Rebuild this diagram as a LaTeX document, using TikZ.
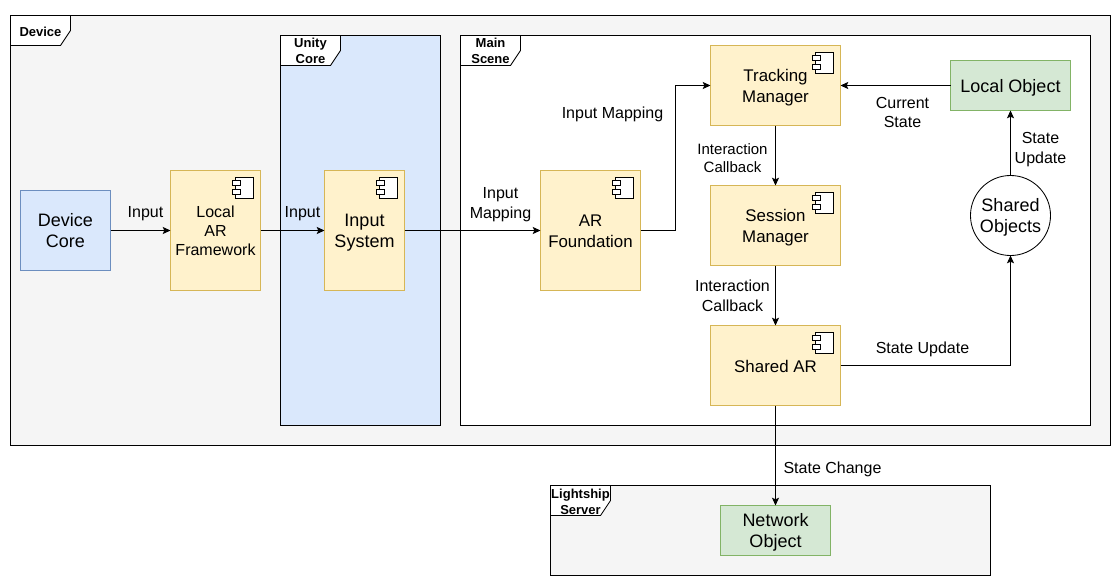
\documentclass[tikz,border=0pt]{standalone}
\usepackage{fontspec}
\setmainfont{Liberation Sans}
\usepackage{xcolor}
\usetikzlibrary{arrows.meta}
\usetikzlibrary{calc}

\definecolor{bluefill}{HTML}{DAE8FC}
\definecolor{blueline}{HTML}{6C8EBF}
\definecolor{yellowfill}{HTML}{FFF2CC}
\definecolor{yellowline}{HTML}{D6B656}
\definecolor{greenfill}{HTML}{D5E8D4}
\definecolor{greenline}{HTML}{82B366}
\definecolor{greyfill}{HTML}{F5F5F5}

\begin{document}
\begin{tikzpicture}[
  x=0.025cm, y=-0.025cm,
  line width=0.6pt,
  sized/.style 2 args={minimum width=#1*0.025cm, minimum height=#2*0.025cm},
  drop/.style={execute at begin node=\rule{0pt}{#1}},
  base/.style={
    rectangle,
    inner sep=0pt,
    outer sep=0pt,
    align=center
  },
  frame/.style={base, draw=black, fill=#1},
  tabshape/.style={draw=black, fill=white},
  tabtext/.style={font=\fontsize{9.25}{11.4}\selectfont\bfseries, align=center, inner sep=0pt},
  comp/.style={base, draw=yellowline, fill=yellowfill, font=\fontsize{12}{14.9}\selectfont},
  compsmall/.style={comp, font=\fontsize{11.38}{13.5}\selectfont},
  compbig/.style={comp, font=\fontsize{12.8}{15}\selectfont},
  bluebox/.style={base, draw=blueline, fill=bluefill, font=\fontsize{12.8}{15}\selectfont},
  greenbox/.style={base, draw=greenline, fill=greenfill, font=\fontsize{12.8}{15}\selectfont},
  lbl/.style={font=\fontsize{11.38}{14.2}\selectfont, align=center, inner sep=0pt},
  lblsmall/.style={font=\fontsize{10.67}{12.8}\selectfont, align=center, inner sep=0pt},
  arr/.style={-{Stealth[length=5.5pt, width=5pt, inset=1.1pt]}, black}
]

\useasboundingbox (-0.5, -0.5) rectangle (1119.5, 584.5);

% Frames
\node[frame=greyfill, sized={1100}{430}] (device) at (560, 230) {};
\node[frame=bluefill, sized={160}{390}] (unity) at (360, 230) {};
\node[frame=white, sized={630}{390}] (mainscene) at (775, 230) {};
\node[frame=greyfill, sized={440}{90}] (lightship) at (770, 530) {};

% Frame tabs
\foreach \frm in {device, unity, mainscene, lightship}
  \draw[tabshape] (\frm.north west) -- ++(60, 0) -- ++(0, 15) -- ++(-10, 15) -- ++(-50, 0) -- cycle;

\node[tabtext] (devicetab) at (40, 31) {Device};
\node[tabtext] (unitytab) at (310, 50.5) {Unity\\Core};
\node[tabtext] (maintab) at (490, 50.5) {Main\\Scene};
\node[tabtext] (lightshiptab) at (580, 501) {Lightship\\Server};

% Boxes
\node[bluebox, sized={90}{80}] (devcore) at (65, 230) {Device\\Core};
\node[compsmall, drop=36pt, sized={90}{120}] (localar) at (215, 230) {Local\\AR\\Framework};
\node[compbig, drop=27pt, sized={80}{120}] (inputsys) at (364, 230) {Input\\System};
\node[comp, drop=24.9pt, sized={100}{120}] (arfound) at (590, 230) {AR\\Foundation};
\node[comp, drop=26.5pt, sized={130}{80}] (tracking) at (775, 85) {Tracking\\Manager};
\node[comp, drop=26.5pt, sized={130}{80}] (session) at (775, 225) {Session\\Manager};
\node[comp, drop=9.4pt, sized={130}{80}] (sharedar) at (775, 365) {Shared AR};
\node[greenbox, drop=12.1pt, sized={120}{50}] (localobj) at (1010, 85) {Local Object};
\node[greenbox, drop=27.2pt, sized={110}{50}] (netobj) at (775, 530) {Network\\Object};
\node[base, circle, draw=black, fill=white, font=\fontsize{12.8}{15}\selectfont, minimum size=2cm,
  drop=27.2pt] (sharedobj) at (1010, 215) {Shared\\Objects};

% Component icons
\foreach \comp in {localar, inputsys, arfound, tracking, session, sharedar} {
  \draw[fill=white] ($(\comp.north east)+(-25.3, 7.3)$) rectangle ($(\comp.north east)+(-7.3, 27.7)$);
  \draw[fill=white] ($(\comp.north east)+(-28, 9.5)$) rectangle ($(\comp.north east)+(-20, 15)$);
  \draw[fill=white] ($(\comp.north east)+(-28, 18.7)$) rectangle ($(\comp.north east)+(-20, 24)$);
}

% Arrows
\draw[arr] (devcore) -- (localar);
\draw[arr] (localar) -- (inputsys);
\draw[arr] (inputsys) -- (arfound);
\draw[arr] (arfound.east) -- ++(35, 0) |- (tracking.west);
\draw[arr] (tracking) -- (session);
\draw[arr] (session) -- (sharedar);
\draw[arr] (sharedar.east) -| (sharedobj.south);
\draw[arr] (sharedobj) -- (localobj);
\draw[arr] (localobj) -- (tracking);
\draw[arr] (sharedar) -- (netobj);

% Labels
\node[lbl] (lblinputa) at (145, 213.5) {Input};
\node[lbl] (lblinputb) at (302, 213.5) {Input};
\node[lbl] (lblmapa) at (500, 204.5) {Input\\Mapping};
\node[lbl] (lblmapb) at (612, 114) {Input Mapping};
\node[lblsmall] (lblcallbacka) at (732, 158) {Interaction\\Callback};
\node[lbl] (lblcallbackb) at (732, 295) {Interaction\\Callback};
\node[lbl] (lblcurrent) at (902, 112) {Current\\State};
\node[lbl] (lblupdatea) at (1040, 149) {State\\Update};
\node[lbl] (lblupdateb) at (922, 349) {State Update};
\node[lbl] (lblchange) at (832, 469) {State Change};

\end{tikzpicture}
\end{document}
